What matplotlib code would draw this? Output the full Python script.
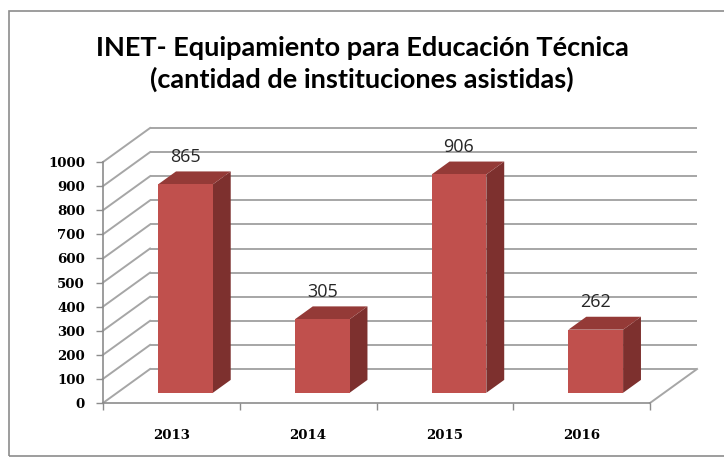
import matplotlib
matplotlib.use("Agg")
import matplotlib.pyplot as plt
from matplotlib.patches import Polygon, Rectangle
import numpy as np

# data
years = ["2013", "2014", "2015", "2016"]
values = [865, 305, 906, 262]
yticks = list(range(0, 1001, 100))
title = "INET- Equipamiento para Educación Técnica\n(cantidad de instituciones asistidas)"

W, H = 724, 458
fig = plt.figure(figsize=(W / 100, H / 100), dpi=100)
fig.patch.set_facecolor("white")

# outer frame
fig.patches.append(Rectangle((9 / W, 2 / H), 1.0, (H - 13) / H, transform=fig.transFigure,
                             fill=False, edgecolor="#8c8c8c", linewidth=1.2))

ax = fig.add_axes([103 / W, (H - 403) / H, 547 / W, 241 / H])
ax.set_xlim(-0.5, len(years) - 0.5)
ax.set_ylim(0, 1000)

# 3d depth in data units (full floor depth)
ddx = 0.344
ddy = 141
grid_col = "#a6a6a6"

x0, x1 = -0.5, len(years) - 0.5
for v in yticks:
    # back wall line
    ax.plot([x0 + ddx, x1 + ddx], [v + ddy, v + ddy], color=grid_col, lw=1.4,
            clip_on=False, zorder=1, solid_capstyle="butt")
    # side wall line
    ax.plot([x0, x0 + ddx], [v, v + ddy], color=grid_col, lw=1.4, clip_on=False, zorder=1)
# floor right edge
ax.plot([x1, x1 + ddx], [0, ddy], color=grid_col, lw=1.4, clip_on=False, zorder=1)

# bars
bw = 0.4
d0, d1 = 0.3, 0.68
front_c, side_c, top_c = "#c0504d", "#7d302e", "#943a37"
for i, v in enumerate(values):
    xl = i - bw / 2 + d0 * ddx
    xr = i + bw / 2 + d0 * ddx
    yb = d0 * ddy
    yt = v + d0 * ddy
    sx = (d1 - d0) * ddx
    sy = (d1 - d0) * ddy
    ax.add_patch(Polygon([(xr, yb), (xr + sx, yb + sy), (xr + sx, yt + sy), (xr, yt)],
                         closed=True, facecolor=side_c, edgecolor="none", zorder=3, clip_on=False))
    ax.add_patch(Polygon([(xl, yt), (xr, yt), (xr + sx, yt + sy), (xl + sx, yt + sy)],
                         closed=True, facecolor=top_c, edgecolor="none", zorder=3, clip_on=False))
    ax.add_patch(Rectangle((xl, yb), xr - xl, v, facecolor=front_c, edgecolor="none",
                           zorder=4, clip_on=False))
    ax.annotate(str(v), xy=(i + d0 * ddx, yt), xytext=(0, 20), textcoords="offset points",
                ha="center", va="center", fontsize=13, family="Open Sans", color="#262626",
                zorder=5, annotation_clip=False)

# axes styling
for s in ["top", "right"]:
    ax.spines[s].set_visible(False)
ax.spines["left"].set_color("#8c8c8c")
ax.spines["bottom"].set_color("#8c8c8c")
ax.spines["left"].set_linewidth(1.2)
ax.spines["bottom"].set_linewidth(1.2)
ax.patch.set_alpha(0)

ax.set_yticks(yticks)
ax.set_yticklabels([str(t) for t in yticks], fontsize=9.6, family="DejaVu Serif",
                   fontweight="bold")
ax.tick_params(axis="y", length=5, width=1, color="#8c8c8c", pad=8)

ax.set_xticks(range(len(years)))
ax.set_xticklabels(years, fontsize=9.6, family="DejaVu Serif", fontweight="bold")
ax.set_xticks(np.arange(len(years) + 1) - 0.5, minor=True)
ax.tick_params(axis="x", which="major", length=0, pad=19)
ax.tick_params(axis="x", which="minor", length=5, width=1, color="#8c8c8c")

fig.text(0.5, 1 - 64 / H, title, ha="center", va="center", fontsize=19.5,
         family="Lato", fontweight="bold", linespacing=1.32, color="black")

fig.savefig("out.png", dpi=100)
